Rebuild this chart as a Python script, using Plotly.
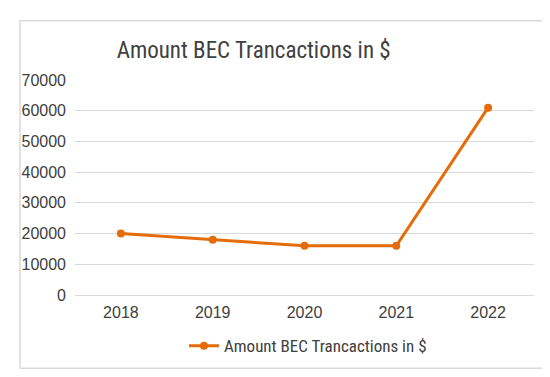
import plotly.graph_objects as go

years = ["2018", "2019", "2020", "2021", "2022"]
amounts = [20000, 18000, 16000, 16000, 61000]
series_name = "Amount BEC Trancactions in $"
title_text = "Amount BEC Trancactions in $"
y_ticks = [0, 10000, 20000, 30000, 40000, 50000, 60000, 70000]

ORANGE = "#E46C0A"
TXT = "#404040"
FONT = "Liberation Sans Narrow, Roboto Condensed, Arial Narrow, sans-serif"
TICKFONT = "Liberation Sans, Arial, sans-serif"

fig = go.Figure()
fig.add_trace(go.Scatter(
    x=years, y=amounts, name=series_name, mode="lines+markers",
    line=dict(color=ORANGE, width=3),
    marker=dict(color=ORANGE, size=8),
))

L, R, T, B = 67, 24, 71.5, 89.5
W, H = 550, 377
pw, ph = W - L - R, H - T - B

def px_x(x):
    return (x - L) / pw

def px_y(y):
    return (H - B - y) / ph

fig.update_layout(
    width=W, height=H,
    margin=dict(l=L, r=R, t=T, b=B),
    paper_bgcolor="white", plot_bgcolor="white",
    title=dict(text=title_text, x=px_x(272), xanchor="center",
               y=1 - 42 / H, yanchor="middle",
               font=dict(family=FONT, size=23, color=TXT)),
    showlegend=True,
    legend=dict(orientation="h", x=px_x(300), xanchor="center",
                y=px_y(339), yanchor="middle",
                font=dict(family=FONT, size=17, color=TXT),
                itemwidth=30),
    xaxis=dict(type="category", range=[-0.5, 4.5], showgrid=False,
               showline=False, ticks="",
               tickfont=dict(family=TICKFONT, size=16, color=TXT),
               ticklabelstandoff=6),
    yaxis=dict(range=[0, 70000], tickvals=y_ticks, tickformat="d",
               showgrid=True, gridcolor="#D9D9D9", gridwidth=1.3,
               zeroline=True, zerolinecolor="#D9D9D9", zerolinewidth=1.3,
               showline=False, ticks="",
               tickfont=dict(family=TICKFONT, size=16, color=TXT),
               ticklabelstandoff=8),
    shapes=[dict(type="rect", xref="paper", yref="paper",
                 x0=px_x(12), x1=px_x(538), y0=px_y(361), y1=px_y(12),
                 line=dict(color="#D9D9D9", width=1.5), layer="below")],
)

fig.write_html("out.html")
